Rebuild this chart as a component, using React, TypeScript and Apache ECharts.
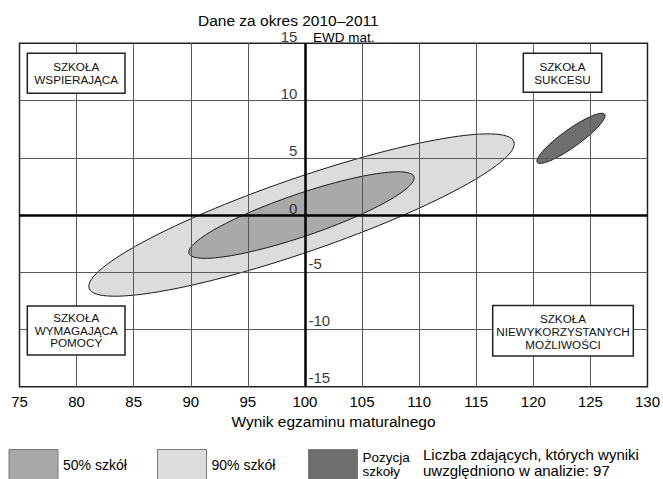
import React, { useEffect, useRef } from "react";
import * as echarts from "echarts";

const FONT = "'Liberation Sans', Arial, Helvetica, sans-serif";

// Axis ranges and ticks
const xMin = 75;
const xMax = 130;
const xStep = 5;
const yMin = -15;
const yMax = 15;
const yStep = 5;
const xGridValues = [80, 85, 90, 95, 105, 110, 115, 120, 125];
const yGridValues = [10, 5, -5, -10];
const crossX = 100;
const crossY = 0;
const yTickLabels = [15, 10, 5, 0, -5, -10, -15];

// Ellipses (data units): centre, major semi-axis vector, minor semi-axis vector
const ellipseNames = ["90% szkół", "50% szkół", "Pozycja szkoły"];
const ellipseCenterX = [99.7, 99.7, 123.3];
const ellipseCenterY = [0.0, 0.0, 6.7];
const ellipseMajorDX = [18.6, 9.85, 2.95];
const ellipseMajorDY = [6.4, 3.35, 2.1];
const ellipseMinorDX = [-1.05, -0.6, -0.45];
const ellipseMinorDY = [3.05, 1.75, 0.63];
const ellipseColors = ["#dcdcdc", "#a9a9a9", "#6f6f6f"];

// Quadrant labels
const quadrantLabels = [
  "SZKOŁA\nWSPIERAJĄCA",
  "SZKOŁA\nSUKCESU",
  "SZKOŁA\nWYMAGAJĄCA\nPOMOCY",
  "SZKOŁA\nNIEWYKORZYSTANYCH\nMOŻLIWOŚCI",
];

const titleText = "Dane za okres 2010–2011";
const xAxisName = "Wynik egzaminu maturalnego";
const yAxisName = "EWD mat.";
const noteLines = ["Liczba zdających, których wyniki", "uwzględniono w analizie: 97"];

function renderEllipse(params: any, api: any) {
  const cx = api.value(0);
  const cy = api.value(1);
  const ax = api.value(2);
  const ay = api.value(3);
  const bx = api.value(4);
  const by = api.value(5);
  const pts: number[][] = [];
  const N = 120;
  for (let i = 0; i < N; i++) {
    const t = (2 * Math.PI * i) / N;
    const c = Math.cos(t);
    const s = Math.sin(t);
    pts.push(api.coord([cx + ax * c + bx * s, cy + ay * c + by * s]));
  }
  return {
    type: "polygon",
    shape: { points: pts },
    style: { fill: api.visual("color"), stroke: "#1a1a1a", lineWidth: 1 },
  };
}

export default function App() {
  const ref = useRef<HTMLDivElement>(null);

  useEffect(() => {
    if (!ref.current) return;
    const chart = echarts.init(ref.current, null, { renderer: "svg" });

    const ellipseSeries = ellipseNames.map((name, i) => ({
      name,
      type: "custom",
      renderItem: renderEllipse,
      itemStyle: { color: ellipseColors[i] },
      data: [
        [
          ellipseCenterX[i],
          ellipseCenterY[i],
          ellipseMajorDX[i],
          ellipseMajorDY[i],
          ellipseMinorDX[i],
          ellipseMinorDY[i],
        ],
      ],
      encode: { x: 0, y: 1 },
      z: 2,
      silent: true,
    }));

    const gridLineData: any[] = [
      ...xGridValues.map((v) => ({ xAxis: v, lineStyle: { color: "#5a5a5a", width: 1, type: "solid" } })),
      ...yGridValues.map((v) => ({ yAxis: v, lineStyle: { color: "#5a5a5a", width: 1, type: "solid" } })),
      { xAxis: crossX, lineStyle: { color: "#000", width: 2.5, type: "solid" } },
      { yAxis: crossY, lineStyle: { color: "#000", width: 2.5, type: "solid" } },
    ];

    const labelSeries = {
      name: "ticks",
      type: "scatter",
      symbolSize: 1,
      itemStyle: { color: "rgba(0,0,0,0)" },
      silent: true,
      z: 5,
      data: yTickLabels.map((v) => ({
        value: [crossX, v],
        label: v >= 0
          ? { show: true, position: "left", distance: 7, offset: [0, -7] }
          : { show: true, position: "right", distance: 3, offset: [0, -9] },
      })),
      label: {
        show: true,
        formatter: (p: any) => String(p.value[1]),
        color: "#000",
        fontSize: 15,
        fontFamily: FONT,
      },
      markLine: {
        silent: true,
        symbol: ["none", "none"],
        label: { show: false },
        data: gridLineData,
      },
    };

    const boxStyle = { fill: "#fff", stroke: "#222", lineWidth: 1.5 };
    const boxText = (text: string, x: number, y: number, lh: number) => ({
      type: "text",
      x,
      y,
      z: 101,
      style: {
        text,
        align: "center",
        verticalAlign: "middle",
        fontSize: 11.7,
        lineHeight: lh,
        fontFamily: FONT,
        fill: "#111",
      },
    });

    const legendBase = {
      padding: 0,
      icon: "rect",
      itemWidth: 49,
      itemHeight: 30,
      itemGap: 0,
      selectedMode: false,
      itemStyle: { borderColor: "#7a7a7a", borderWidth: 1 },
    };

    const option: any = {
      animation: false,
      title: {
        text: titleText,
        left: 198,
        top: 12,
        padding: 0,
        textStyle: { fontSize: 15.5, fontWeight: "normal", color: "#000", fontFamily: FONT },
      },
      grid: {
        left: 19.5,
        right: 14,
        top: 43.3,
        bottom: 92.2,
        show: true,
        borderColor: "#222",
        borderWidth: 1.5,
        backgroundColor: "#fff",
      },
      xAxis: {
        type: "value",
        min: xMin,
        max: xMax,
        interval: xStep,
        name: xAxisName,
        nameLocation: "middle",
        nameGap: 27,
        nameTextStyle: { fontSize: 15.5, color: "#000", fontFamily: FONT },
        axisLine: { show: false },
        axisTick: { show: false },
        splitLine: { show: false },
        axisLabel: { fontSize: 15, color: "#000", margin: 7, fontFamily: FONT },
      },
      yAxis: {
        type: "value",
        min: yMin,
        max: yMax,
        interval: yStep,
        axisLine: { show: false },
        axisTick: { show: false },
        splitLine: { show: false },
        axisLabel: { show: false },
      },
      legend: [
        {
          ...legendBase,
          data: [ellipseNames[1]],
          left: 8.5,
          top: 449,
          textStyle: { fontSize: 14, color: "#000", fontFamily: FONT },
        },
        {
          ...legendBase,
          data: [ellipseNames[0]],
          left: 157,
          top: 449,
          textStyle: { fontSize: 14, color: "#000", fontFamily: FONT },
        },
        {
          ...legendBase,
          data: [ellipseNames[2]],
          left: 308,
          top: 449,
          formatter: () => "Pozycja\nszkoły",
          textStyle: { fontSize: 13.5, lineHeight: 13.8, color: "#000", fontFamily: FONT },
        },
      ],
      graphic: [
        {
          type: "text",
          x: 313,
          y: 37,
          z: 100,
          style: {
            text: yAxisName,
            fontSize: 13.5,
            fontFamily: FONT,
            fill: "#000",
            verticalAlign: "middle",
            align: "left",
          },
        },
        { type: "rect", z: 100, shape: { x: 27.3, y: 53.3, width: 97.7, height: 40 }, style: boxStyle },
        boxText(quadrantLabels[0], 76.2, 73, 12.4),
        { type: "rect", z: 100, shape: { x: 523.3, y: 53.3, width: 78.4, height: 39 }, style: boxStyle },
        boxText(quadrantLabels[1], 562.5, 72.8, 12.4),
        { type: "rect", z: 100, shape: { x: 27.3, y: 306, width: 97.7, height: 49 }, style: boxStyle },
        boxText(quadrantLabels[2], 76.2, 330, 12.8),
        { type: "rect", z: 100, shape: { x: 492.7, y: 305.5, width: 140.6, height: 50.5 }, style: boxStyle },
        boxText(quadrantLabels[3], 563, 331.5, 13.2),
        {
          type: "text",
          x: 423,
          y: 454.5,
          z: 100,
          style: {
            text: noteLines[0],
            fontSize: 15,
            fontFamily: FONT,
            fill: "#000",
            verticalAlign: "middle",
            align: "left",
          },
        },
        {
          type: "text",
          x: 423,
          y: 470,
          z: 100,
          style: {
            text: noteLines[1],
            fontSize: 15,
            fontFamily: FONT,
            fill: "#000",
            verticalAlign: "middle",
            align: "left",
          },
        },
      ],
      series: [...ellipseSeries, labelSeries],
    };

    chart.setOption(option);
    return () => chart.dispose();
  }, []);

  return (
    <div
      ref={ref}
      style={{ position: "fixed", left: 0, top: 0, width: 663, height: 479, background: "#fff" }}
    />
  );
}
